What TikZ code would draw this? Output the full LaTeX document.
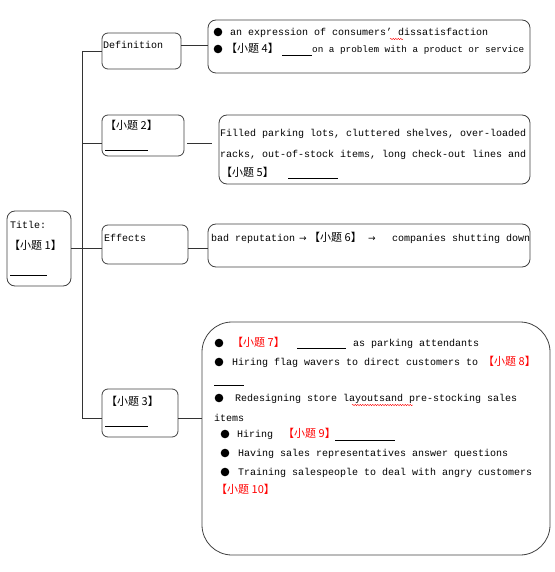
\documentclass[tikz,border=0pt]{standalone}
\usepackage{fontspec}
\setmonofont{Liberation Mono}
\newfontfamily\cjk{Noto Sans CJK SC}
\newfontfamily\dvs{DejaVu Sans}
\usetikzlibrary{decorations.pathmorphing}
\begin{document}
\begin{tikzpicture}[x=1pt,y=-1pt,
  box/.style={draw=black!75,line width=0.8pt,rounded corners=#1,inner sep=0pt},
  box/.default=6pt,
  link/.style={draw=black!80,line width=0.8pt},
  txt/.style={anchor=base west,inner sep=0pt,font=\ttfamily\fontsize{10}{12}\selectfont},
  zh/.style={anchor=base west,inner sep=0pt,font=\cjk\fontsize{11}{13}\selectfont},
  zhred/.style={zh,text=red},
  blank/.style={draw=black,line width=0.6pt},
  dot/.style={fill=black},
  wavy/.style={draw=red,line width=0.4pt,decorate,decoration={snake,amplitude=0.7pt,segment length=2.5pt}}]
\useasboundingbox (0,0) rectangle (554,572);
% boxes
\node[box=8pt,minimum width=64pt,minimum height=75pt] (title) at (39,248.5) {};
\node[box,minimum width=79pt,minimum height=36pt] (def) at (141.5,51) {};
\node[box,minimum width=82pt,minimum height=41pt] (q2) at (143,135.5) {};
\node[box,minimum width=86pt,minimum height=39pt] (eff) at (145,244.5) {};
\node[box,minimum width=76pt,minimum height=48pt] (q3) at (140,413) {};
\node[box=8pt,minimum width=322pt,minimum height=53pt] (c1) at (369,46.5) {};
\node[box=8pt,minimum width=311pt,minimum height=69pt] (c2) at (374.5,149.5) {};
\node[box=8pt,minimum width=322pt,minimum height=43pt] (c3) at (369,245.5) {};
\node[box=30pt,minimum width=348pt,minimum height=233pt] (c4) at (376,438.5) {};
% trunk
\coordinate (t1) at (82,51);
\coordinate (t2) at (82,143);
\coordinate (t3) at (82,248);
\coordinate (t4) at (82,418);
\coordinate (l1) at (195,45);
\draw[link] (t1) -- (t4);
\draw[link] (title.east |- t3) -- (t3);
\draw[link] (t1) -- (t1 -| def.west);
\draw[link] (t2) -- (t2 -| q2.west);
\draw[link] (t3) -- (t3 -| eff.west);
\draw[link] (t4) -- (t4 -| q3.west);
\draw[link] (l1 -| def.east) -- (l1 -| c1.west);
\draw[link] ([xshift=3pt]t2 -| q2.east) -- ([xshift=-7pt]t2 -| c2.west);
\draw[link] (t3 -| eff.east) -- (t3 -| c3.west);
\draw[link] (t4 -| q3.east) -- (t4 -| c4.west);
% left labels
\node[txt] (ttl) at (10,228.5) {Title:};
\node[zh] (x1) at (9,249) {【小题 1】};
\draw[blank] (10,275) -- (47,275);
\node[txt] (deflab) at (103,48.5) {Definition};
\node[zh] (x2) at (105,129.5) {【小题 2】};
\draw[blank] (105,150) -- (148,150);
\node[txt] (efflab) at (104,241.5) {Effects};
\node[zh] (x3) at (106,405.5) {【小题 3】};
\draw[blank] (105,426) -- (148,426);
% definition content
\fill[dot] (218,32) circle (4.3pt);
\node[txt] (d1) at (230,35.5) {\makebox[272pt][s]{an expression of consumers’ dissatisfaction}};
\draw[wavy] (390,39) -- (403,39);
\fill[dot] (218,49) circle (4.3pt);
\node[zh] (x4) at (226,52.5) {【小题 4】};
\draw[blank] (282,55) -- (312,55);
\node[txt,font=\ttfamily\fontsize{9.3}{11}\selectfont] (d2) at (312,52.5) {on a problem with a product or service};
% q2 content
\node[txt] (e1) at (220,136.5) {\makebox[307pt][s]{Filled parking lots, cluttered shelves, over-loaded}};
\node[txt] (e2) at (220,157.5) {\makebox[307pt][s]{racks, out-of-stock items, long check-out lines and}};
\node[zh] (x5) at (221,176.5) {【小题 5】};
\draw[blank] (288,178) -- (338,178);
% effects content
\node[txt] (f1) at (211,241.5) {bad reputation};
\node[txt,font=\dvs\fontsize{9}{11}\selectfont] (a1) at (299,241.5) {→};
\node[zh] (x6) at (309,241.5) {【小题 6】};
\node[txt,font=\dvs\fontsize{9}{11}\selectfont] (a2) at (368,241.5) {→};
\node[txt] (f2) at (392,241.5) {companies shutting down};
% big box content
\fill[dot] (219,343) circle (4.3pt);
\node[zhred] (x7) at (232,346.5) {【小题 7】};
\draw[blank] (297,348) -- (346,348);
\node[txt] (g1) at (353,346.5) {as parking attendants};
\fill[dot] (219,362) circle (4.3pt);
\node[txt] (g2) at (232,365.5) {Hiring flag wavers to direct customers to};
\node[zhred] (x8) at (483,365.5) {【小题 8】};
\draw[blank] (214,385) -- (244,385);
\fill[dot] (219,398) circle (4.3pt);
\node[txt] (g3) at (235,401.5) {\makebox[298pt][s]{Redesigning store layoutsand pre-stocking sales}};
\draw[wavy] (352,405) -- (413,405);
\node[txt] (g4) at (214,421.5) {items};
\fill[dot] (225,434) circle (4.3pt);
\node[txt] (g5) at (237,437.5) {Hiring};
\node[zhred] (x9) at (283,437.5) {【小题 9】};
\draw[blank] (335,440) -- (395,440);
\fill[dot] (225,453) circle (4.3pt);
\node[txt] (g6) at (238,456.5) {Having sales representatives answer questions};
\fill[dot] (225,472) circle (4.3pt);
\node[txt] (g7) at (238,475.5) {Training salespeople to deal with angry customers};
\node[zhred] (x10) at (216,493.5) {【小题 10】};
\end{tikzpicture}
\end{document}
